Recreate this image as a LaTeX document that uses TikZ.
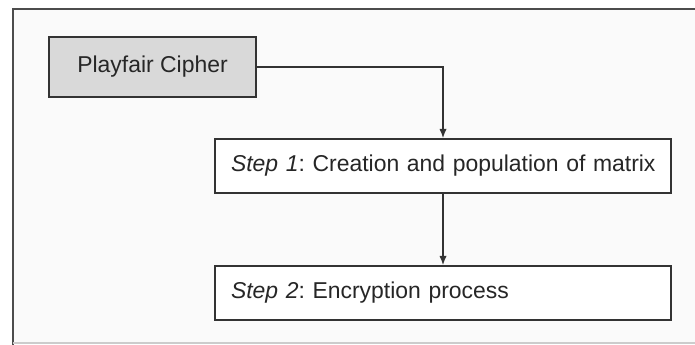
\documentclass[tikz,border=0pt]{standalone}
\usepackage{fontspec}
\setmainfont{Liberation Sans}
\usetikzlibrary{positioning,arrows.meta}
\frenchspacing

\begin{document}
\begin{tikzpicture}[x=0.75pt, y=-0.75pt, >={Latex[length=7pt,width=5.5pt]}, line width=1.1pt,
    every node/.style={font=\fontsize{17.2}{20}\selectfont, text=black!85},
    stepbox/.style={draw=black!80, fill=white, minimum height=40.5pt, text width=318pt,
      inner xsep=12pt, align=left},
    startbox/.style={draw=black!80, fill=gray!30, minimum width=155.25pt, minimum height=45pt}]
    \useasboundingbox (0,0) rectangle (695,345);
    % frame
    \fill[black!2] (13,9) rectangle (695,343);
    \draw[black!70, line width=1.5pt] (13,345) -- (13,9) -- (695,9);
    \draw[black!20, line width=1.2pt] (13,343) -- (695,343);

    \node[startbox] (cipher) at (152.5,67) {Playfair Cipher};
    \node[stepbox] (step1) at (443,166) {\mbox{\textit{Step 1}: Creation and population of matrix}};
    \node[stepbox] (step2) at (443,293) {\mbox{\textit{Step 2}: Encryption process}};

    \draw[->, black!80] (cipher.east) -| (step1.north);
    \draw[->, black!80] (step1) -- (step2);
  \end{tikzpicture}
\end{document}
